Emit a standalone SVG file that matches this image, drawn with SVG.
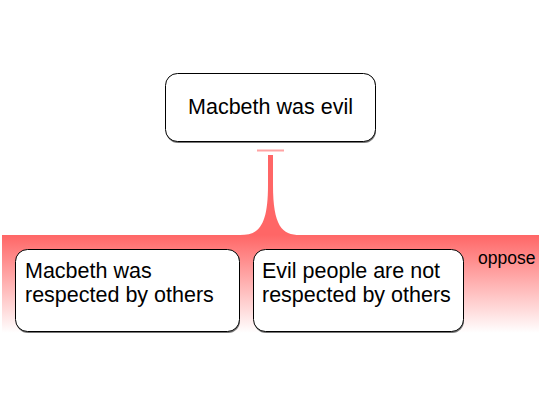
<svg xmlns="http://www.w3.org/2000/svg" width="540" height="405" viewBox="0 0 540 405">
<defs>
<linearGradient id="g" x1="0" y1="0" x2="0" y2="1">
<stop offset="0" stop-color="#ff6666"/>
<stop offset="1" stop-color="#ffffff"/>
</linearGradient>
</defs>
<style>
.box{fill:#ffffff;stroke:#000000;stroke-width:1}
.sh{fill:#777777}
.t{font-family:"Liberation Sans",Arial,sans-serif;font-size:21.5px;fill:#000000}
.lbl{font-family:"Liberation Sans",Arial,sans-serif;font-size:17.5px;fill:#000000}
</style>
<rect width="540" height="405" fill="#ffffff"/>
<g id="connectors">
<line x1="257" y1="150.5" x2="284" y2="150.5" stroke="#ff6666" stroke-opacity="0.6" stroke-width="2"/>
<path d="M268,155 L273,155 L273,185 C273,226 282,235 300,235 L240,235 C259,235 268,226 268,185 Z" fill="#ff6666"/>
<rect x="2" y="235" width="537" height="98" fill="url(#g)"/>
<rect x="2" y="235" width="1.5" height="98" fill="url(#g)"/>
<rect x="537.5" y="235" width="1.5" height="98" fill="url(#g)"/>
<text class="lbl" x="478" y="264">oppose</text>
</g>
<g id="n1">
<rect class="sh" x="166" y="74" width="210" height="69" rx="12"/>
<rect class="box" x="165.5" y="73.5" width="210" height="68" rx="12"/>
<text class="t" x="270.5" y="114" text-anchor="middle">Macbeth was evil</text>
</g>
<g id="n2">
<rect class="sh" x="16" y="250" width="224" height="83" rx="12"/>
<rect class="box" x="15.5" y="249.5" width="224" height="82" rx="12"/>
<text class="t" x="25" y="278">Macbeth was</text>
<text class="t" x="25" y="302">respected by others</text>
</g>
<g id="n3">
<rect class="sh" x="254" y="250" width="210" height="83" rx="12"/>
<rect class="box" x="253.5" y="249.5" width="210" height="82" rx="12"/>
<text class="t" x="262" y="278">Evil people are not</text>
<text class="t" x="262" y="302">respected by others</text>
</g>
</svg>
